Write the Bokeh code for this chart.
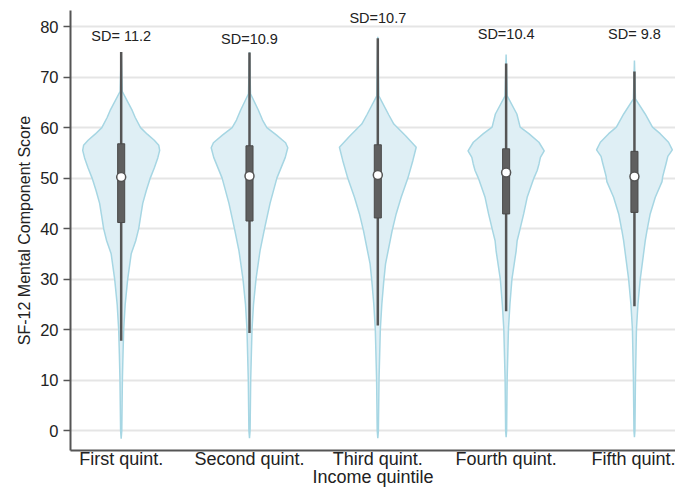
from bokeh.plotting import figure
from bokeh.models import ColumnDataSource, FixedTicker, Range1d
from bokeh.embed import file_html
from bokeh.resources import INLINE
from bokeh.core.properties import value

categories = ["First quint.", "Second quint.", "Third quint.", "Fourth quint.", "Fifth quint."]
sd_labels = ["SD= 11.2", "SD=10.9", "SD=10.7", "SD=10.4", "SD= 9.8"]
sd_label_y = [78.2, 77.6, 81.7, 78.5, 78.5]

# violin density profiles (score level, relative density)
first_y = [-1.6, 0, 5, 10, 15, 20, 25, 30, 35, 37.6, 40, 42.5, 45, 47.5, 50, 52, 54, 55.5, 56.5, 57.5, 58.7, 60, 62, 63.4, 65.3, 67.2, 75]
first_d = [0, 0.6, 0.9, 1.2, 1.8, 2.5, 4, 6.5, 10, 14.5, 17.5, 19.5, 21.5, 25, 29, 33, 36.5, 38.4, 37.5, 33, 26, 19.3, 14, 11, 6, 1, 0]
second_y = [-1.5, 0, 10, 20, 25, 30, 35.6, 40, 45, 50, 54.1, 56, 57, 58.5, 60, 61.5, 63.4, 66.7, 75]
second_d = [0, 0.6, 1.2, 2.5, 4, 6.5, 10.5, 15, 20.5, 27.3, 35.7, 38.2, 36, 27, 17.3, 13, 9, 1, 0]
third_y = [-1.5, 0, 10, 20, 25, 29.7, 33, 36.3, 39.6, 42.9, 46.2, 50, 53.5, 56.1, 58.4, 60.7, 62.5, 66.3, 78]
third_d = [0, 0.6, 1.2, 2.5, 4, 6, 7.7, 11, 14.3, 18.3, 23.3, 30, 35, 38.3, 27.7, 16, 11, 1, 0]
fourth_y = [-1.3, 0, 10, 20, 25, 30, 35.6, 37.6, 39.6, 42.9, 46.2, 50, 51.5, 52.8, 54.1, 55.4, 57.1, 58.8, 60.1, 62.7, 66.3, 74.5]
fourth_d = [0, 0.5, 1, 2.3, 3.8, 5.8, 10, 11, 13.5, 17.5, 21, 27.7, 31, 32.8, 34.2, 38, 32.7, 22.7, 14, 10.7, 1, 0]
fifth_y = [-1.3, 0, 10, 20, 25, 30, 37.6, 39.6, 42.9, 46.2, 49.3, 50.3, 51.7, 53, 54.3, 55.6, 57.1, 58.8, 60.1, 62.7, 65.7, 73.3]
fifth_d = [0, 0.5, 1, 2, 3.5, 5.8, 10.8, 12.5, 15.7, 20.8, 27.5, 28.2, 30, 31.7, 33.3, 37.8, 34, 25.7, 18, 10.7, 1, 0]

whisker_low = [17.8, 19.3, 20.8, 23.6, 24.6]
whisker_high = [75.0, 74.9, 77.7, 72.7, 71.1]
q1 = [41.2, 41.5, 42.1, 42.9, 43.2]
q3 = [56.8, 56.4, 56.6, 55.8, 55.3]
median = [50.2, 50.4, 50.6, 51.1, 50.3]

profiles = [(first_y, first_d), (second_y, second_d), (third_y, third_d),
            (fourth_y, fourth_d), (fifth_y, fifth_d)]

VIOLIN_HALF = 0.3
BOX_W = 0.055
max_d = max(max(d) for _, d in profiles)
pos = list(range(1, len(categories) + 1))

p = figure(width=675, height=489, output_backend="svg", toolbar_location=None,
           x_range=Range1d(0.605, 5.32), y_range=Range1d(-3.96, 83.2),
           min_border_left=70, min_border_right=0, min_border_top=10, min_border_bottom=39)

FONT = "Liberation Sans"
for i, (ys, ds) in enumerate(profiles):
    c = pos[i]
    xs_r = [c + d / max_d * VIOLIN_HALF for d in ds]
    xs_l = [c - d / max_d * VIOLIN_HALF for d in ds]
    xs = xs_r + xs_l[::-1]
    yy = list(ys) + list(ys)[::-1]
    p.patch(xs, yy, fill_color="#dfeff5", line_color="#a6d6e3", line_width=1.5)

src = ColumnDataSource(dict(x=pos, lo=whisker_low, hi=whisker_high, q1=q1, q3=q3,
                            med=median, sd=sd_labels, sdy=sd_label_y))
p.segment(x0="x", y0="lo", x1="x", y1="hi", source=src, line_color="#555555", line_width=2.5)
p.vbar(x="x", bottom="q1", top="q3", width=BOX_W, source=src,
       fill_color="#5f5f5f", line_color="#4a4a4a", line_width=1)
p.scatter(x="x", y="med", source=src, size=9, fill_color="white",
          line_color="#555555", line_width=1.5)
p.text(x="x", y="sdy", text="sd", source=src, text_align="center", text_baseline="middle",
       text_font=value(FONT), text_font_size="14.5px", text_color="#222222")

p.outline_line_color = None
p.xgrid.grid_line_color = None
p.ygrid.grid_line_color = "#e5e5e5"
p.ygrid.grid_line_width = 2
p.ygrid.ticker = FixedTicker(ticks=list(range(0, 81, 10)))

p.yaxis.ticker = FixedTicker(ticks=list(range(0, 81, 10)))
p.yaxis.axis_label = "SF-12 Mental Component Score"
p.yaxis.minor_tick_line_color = None
p.yaxis.major_tick_out = 7
p.yaxis.major_tick_in = 0
p.yaxis.major_label_standoff = 5
p.yaxis.axis_label_standoff = 4
p.yaxis.major_tick_line_color = "#555555"
p.yaxis.major_tick_line_width = 1.5
p.yaxis.major_label_text_font_size = "16.5px"
p.yaxis.axis_label_text_font_size = "16px"

p.xaxis.ticker = FixedTicker(ticks=pos)
p.xaxis.major_label_overrides = {k: v for k, v in zip(pos, categories)}
p.xaxis.axis_label = "Income quintile"
p.xaxis.major_tick_line_color = None
p.xaxis.minor_tick_line_color = None
p.xaxis.major_tick_out = 0
p.xaxis.major_tick_in = 0
p.xaxis.major_label_standoff = -2
p.xaxis.axis_label_standoff = -5
p.xaxis.major_label_text_font_size = "18px"
p.xaxis.axis_label_text_font_size = "18px"

for ax in (p.xaxis, p.yaxis):
    ax.axis_line_color = "#555555"
    ax.axis_line_width = 2
    ax.major_label_text_font = FONT
    ax.major_label_text_color = "#222222"
    ax.axis_label_text_font = FONT
    ax.axis_label_text_font_style = "normal"
    ax.axis_label_text_color = "#222222"

open("out.html", "w").write(file_html(p, INLINE))
